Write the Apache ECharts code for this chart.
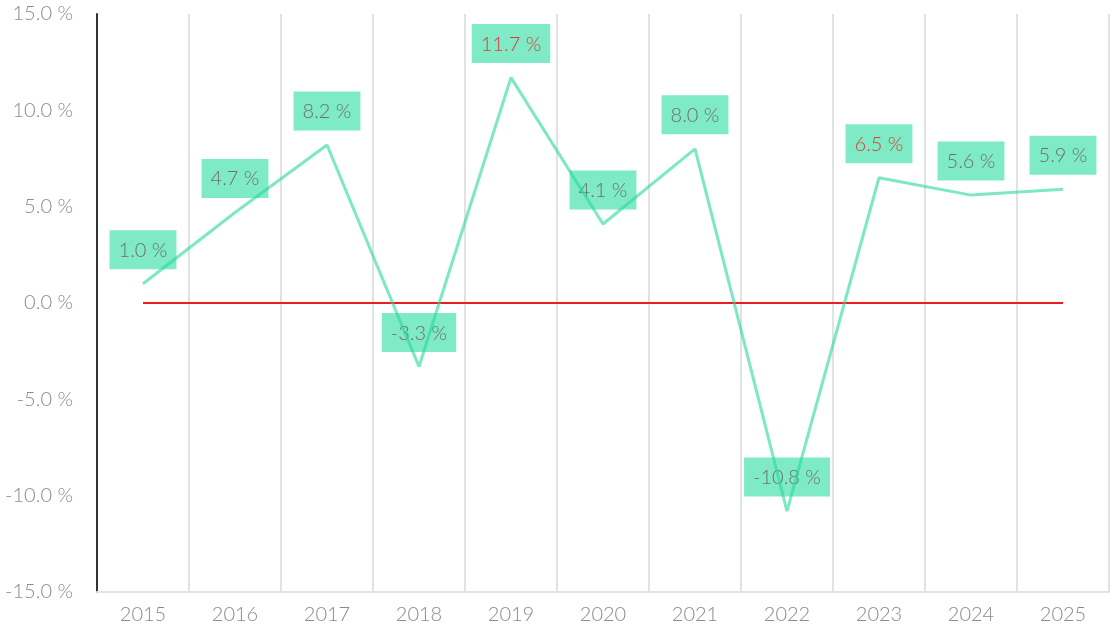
<!DOCTYPE html>
<html><head><meta charset="utf-8">
<script src="https://cdn.jsdelivr.net/npm/echarts@6/dist/echarts.min.js"></script>
<style>html,body{margin:0;padding:0;background:#fff}#c{width:1113px;height:637px}</style>
</head><body><div id="c"></div>
<script>
const categories = ['2015','2016','2017','2018','2019','2020','2021','2022','2023','2024','2025'];
const growth = [1.0, 4.7, 8.2, -3.3, 11.7, 4.1, 8.0, -10.8, 6.5, 5.6, 5.9];
const highlighted = ['2019','2023'];
const baseline = categories.map(() => 0);
const yTicks = { min: -15, max: 15, interval: 5 };

const FONT = 'Lato, "Noto Sans", sans-serif';
const chart = echarts.init(document.getElementById('c'), null, {renderer:'canvas'});
chart.setOption({
  animation: false,
  backgroundColor: '#fff',
  grid: { left: 97, right: 4, top: 14, bottom: 45 },
  xAxis: [
    { type: 'category', data: categories, boundaryGap: true,
      axisLine: { show: false }, axisTick: { show: false },
      axisLabel: { color: '#8a8a8a', fontSize: 20, fontWeight: 300, fontFamily: FONT, margin: 13 },
      splitLine: { show: true, lineStyle: { color: '#e2e2e2', width: 2 } } },
    { type: 'category', data: categories, boundaryGap: true, position: 'bottom',
      axisLine: { show: true, onZero: true, lineStyle: { color: '#e2e2e2', width: 2 } },
      axisTick: { show: false }, axisLabel: { show: false }, splitLine: { show: false } }
  ],
  yAxis: {
    type: 'value', min: yTicks.min, max: yTicks.max, interval: yTicks.interval,
    axisLine: { show: true, lineStyle: { color: '#333', width: 2 } },
    axisTick: { show: false }, splitLine: { show: false },
    axisLabel: { color: '#8a8a8a', fontSize: 20, fontWeight: 300, fontFamily: FONT, margin: 24,
      formatter: v => v.toFixed(1) + ' %' }
  },
  series: [
    { type: 'line', data: baseline, xAxisIndex: 0, symbol: 'none', silent: true,
      lineStyle: { color: '#ee1c1c', width: 2 }, z: 3 },
    { type: 'line', xAxisIndex: 0, symbol: 'circle', symbolSize: 1, showSymbol: true, z: 4,
      itemStyle: { color: 'rgba(0,0,0,0)' },
      data: growth.map((v, i) => ({
        value: v,
        label: { color: highlighted.includes(categories[i]) ? '#e03a3a' : '#6e6e6e' }
      })),
      lineStyle: { opacity: 0 },
      label: { show: true, position: 'top', distance: 14,
        backgroundColor: '#7eebc6', padding: [10, 9, 9, 9],
        fontSize: 20, fontWeight: 300, fontFamily: FONT, color: '#6e6e6e',
        formatter: p => p.value.toFixed(1) + ' %' },
      labelLayout: { hideOverlap: false } },
    { type: 'line', xAxisIndex: 0, symbol: 'none', z: 6, silent: true,
      data: growth,
      lineStyle: { color: 'rgba(40,215,155,0.6)', width: 3 } }
  ]
});
</script></body></html>
